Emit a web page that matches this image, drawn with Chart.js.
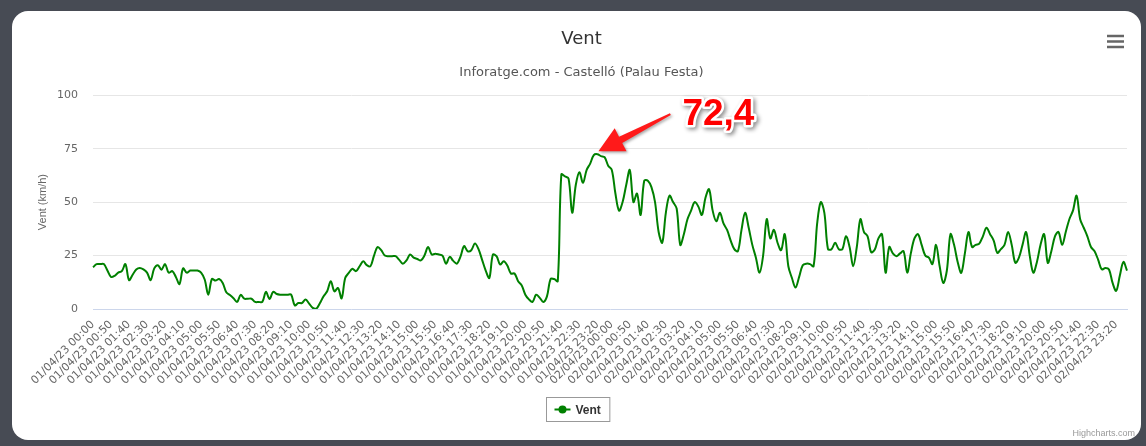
<!DOCTYPE html>
<html>
<head>
<meta charset="utf-8">
<script src="https://cdn.jsdelivr.net/npm/chart.js@4.4.0/dist/chart.umd.min.js"></script>
<style>
  html, body { margin: 0; padding: 0; }
  body { width: 1146px; height: 446px; background: #474b54; position: relative; overflow: hidden; }
  .card { position: absolute; left: 12px; top: 11px; width: 1129px; height: 429px; background: #fff; border-radius: 16px; }
  #windChart { position: absolute; left: 0; top: 0; }
</style>
</head>
<body>
<div class="card"></div>
<canvas id="windChart" width="1146" height="446"></canvas>
<script>
const chartTitle = "Vent"
const chartSubtitle = "Inforatge.com - Castelló (Palau Festa)"
const seriesName = "Vent"
const yAxisTitle = "Vent (km/h)"
const days = ["01/04/23", "02/04/23"]
const yTicks = [0, 25, 50, 75, 100]

// wind every 10 minutes
const windDay1 = [
  19.5, 21, 21, 21, 18, 15, 15.5, 17, 17.7, 21, 13.5, 16, 18.5, 19.2, 18.5, 17, 13.5, 19, 20.5, 18.4,
  21, 17, 17.7, 15, 11.7, 19, 17, 18, 18, 18, 17, 13.8, 6.7, 14, 13.3, 14, 12.2, 7.8, 6.5, 5,
  3.3, 6.6, 4.8, 4.8, 4.8, 3.3, 3.3, 3.3, 8, 4.7, 8, 7, 6.7, 6.7, 6.7, 6.7, 1.7, 2.8, 2.8, 4.4,
  2.5, 0.5, 0.2, 2.8, 6, 8.3, 13, 8.3, 9.8, 5, 14.5, 16.9, 18.8, 17.7, 20, 22.3, 20.5, 20, 25, 29,
  27.5, 25, 24.7, 24.7, 24.7, 23, 21.2, 22.7, 25.5, 24, 23.4, 22.7, 25, 29, 25.5, 25.8, 25.5, 25, 21.2, 24.4,
  22.5, 21.2, 24.5, 29.4, 27, 27.5, 30.6, 28, 23, 18, 14.5, 25.5, 24.7, 20.8, 22.3, 20.3, 16.6, 16.6, 13, 11,
  6.7, 4.5, 3.3, 6.7, 5.2, 3.3, 5.9, 14, 14, 13, 63, 62, 61, 45, 58, 64, 59, 65, 68, 72,
  72.4, 71.5, 71, 67
]
const windDay2 = [
  65, 54, 46, 50, 58, 65, 50, 54, 44, 60, 60, 57, 50, 36, 31, 45, 53, 50, 47, 30,
  35, 42, 46, 50, 48, 44, 52, 56, 46, 41, 45, 40, 37, 32, 28, 27, 37, 45, 38, 30,
  24, 17, 25, 42, 33, 37, 31, 27.5, 35, 20, 14.5, 10, 15, 20.5, 21.2, 21, 20, 40, 50, 45,
  28, 28, 31, 28, 28, 34, 29, 20, 29, 42, 36, 34, 26.5, 27.8, 33, 35, 17, 29, 26, 24.7,
  26, 27, 17, 26, 33, 35, 30, 25, 24, 21, 30, 20, 12.2, 18, 35, 30, 22, 16.9, 26, 36,
  29, 30, 30.6, 34, 38, 35, 32, 26.3, 28, 30, 36, 30, 21.6, 24, 30, 36, 25, 17, 22, 30,
  35, 21.6, 27, 34, 36, 30, 36, 42, 46, 53, 42, 38, 34, 29, 27, 23, 18.5, 19.2, 18.5, 12.2,
  8.5, 15.5, 22, 18
]

const windValues = windDay1.concat(windDay2)

// one label per 10 minutes, two days
const timeLabels = []
days.forEach(d => {
  for (let m = 0; m < 24 * 60; m += 10) {
    const hh = String(Math.floor(m / 60)).padStart(2, "0")
    const mm = String(m % 60).padStart(2, "0")
    timeLabels.push(`${d} ${hh}:${mm}`)
  }
})

function showLabel(label) {
  const t = label.split(" ")[1].split(":")
  const mins = parseInt(t[0]) * 60 + parseInt(t[1])
  return mins % 50 === 0
}

const mainFont = "'DejaVu Sans', sans-serif"
const armFont = "'Liberation Sans', Arial, sans-serif"

const extras = {
  id: "extras",
  afterDraw(chart) {
    const c = chart.ctx
    const W = chart.width
    c.save()

    // menu icon
    c.strokeStyle = "#666"
    c.lineWidth = 2.5
    ;[36, 41.5, 47].forEach(y => {
      c.beginPath()
      c.moveTo(W - 39, y)
      c.lineTo(W - 22, y)
      c.stroke()
    })

    // credits
    c.fillStyle = "#999"
    c.font = "9px " + armFont
    c.textAlign = "right"
    c.textBaseline = "alphabetic"
    c.fillText("Highcharts.com", W - 11, 436)

    // legend box
    c.font = "bold 12px " + armFont
    const tw = c.measureText(seriesName).width
    const bw = 8 + 16 + 5 + tw + 9
    const bx = Math.round(W / 2 + 5 - bw / 2) + 0.5
    const by = 397.5
    c.strokeStyle = "#999"
    c.lineWidth = 1
    c.strokeRect(bx, by, bw, 24)
    const ly = by + 12
    c.strokeStyle = "#008000"
    c.lineWidth = 2
    c.beginPath()
    c.moveTo(bx + 8, ly)
    c.lineTo(bx + 24, ly)
    c.stroke()
    c.fillStyle = "#008000"
    c.beginPath()
    c.arc(bx + 16, ly, 4, 0, Math.PI * 2)
    c.fill()
    c.fillStyle = "#333"
    c.textAlign = "left"
    c.textBaseline = "middle"
    c.fillText(seriesName, bx + 29, ly + 1)

    // peak annotation
    const maxVal = Math.max(...windValues)
    const maxIdx = windValues.indexOf(maxVal)
    const tipX = chart.scales.x.getPixelForValue(maxIdx) + 1
    const tipY = chart.scales.y.getPixelForValue(maxVal) - 3
    const tailX = tipX + 72, tailY = tipY - 37
    const len = Math.hypot(tailX - tipX, tailY - tipY)
    const ux = (tailX - tipX) / len, uy = (tailY - tipY) / len
    const nx = -uy, ny = ux
    const hb = 25, hw = 13, sw = 3.5, tw2 = 1
    const bX = tipX + ux * hb, bY = tipY + uy * hb
    c.shadowColor = "rgba(0,0,0,0.35)"
    c.shadowBlur = 3
    c.shadowOffsetX = 1.5
    c.shadowOffsetY = 1.5
    c.fillStyle = "#ff1a1a"
    c.beginPath()
    c.moveTo(tipX, tipY)
    c.lineTo(bX + nx * hw, bY + ny * hw)
    c.lineTo(bX + nx * sw, bY + ny * sw)
    c.lineTo(tailX + nx * tw2, tailY + ny * tw2)
    c.lineTo(tailX - nx * tw2, tailY - ny * tw2)
    c.lineTo(bX - nx * sw, bY - ny * sw)
    c.lineTo(bX - nx * hw, bY - ny * hw)
    c.closePath()
    c.fill()

    const txt = String(maxVal).replace(".", ",")
    c.font = "bold 37px " + armFont
    c.textAlign = "left"
    c.textBaseline = "alphabetic"
    c.lineJoin = "round"
    c.strokeStyle = "#fff"
    c.lineWidth = 5
    c.shadowColor = "rgba(0,0,0,0.45)"
    c.shadowBlur = 4
    c.shadowOffsetX = 2
    c.shadowOffsetY = 2
    c.strokeText(txt, tipX + 84, tipY - 26)
    c.shadowColor = "transparent"
    c.fillStyle = "#ff0000"
    c.fillText(txt, tipX + 84, tipY - 26)
    c.restore()
  }
}

const ctx = document.getElementById("windChart").getContext("2d")
new Chart(ctx, {
  type: "line",
  data: {
    labels: timeLabels,
    datasets: [{
      label: seriesName,
      data: windValues,
      borderColor: "#008000",
      borderWidth: 2,
      pointRadius: 0,
      tension: 0.35,
      fill: false
    }]
  },
  options: {
    responsive: false,
    animation: false,
    devicePixelRatio: 1,
    layout: { padding: { left: 36, right: 19, top: 29, bottom: 52 } },
    plugins: {
      legend: { display: false },
      tooltip: { enabled: false },
      title: {
        display: true, text: chartTitle, color: "#333",
        font: { family: mainFont, size: 18, weight: "normal" },
        padding: { top: 0, bottom: 14 }
      },
      subtitle: {
        display: true, text: chartSubtitle, color: "#555",
        font: { family: mainFont, size: 13 },
        padding: { top: 0, bottom: 15 }
      }
    },
    scales: {
      x: {
        grid: { display: false, drawTicks: false },
        border: { display: true, color: "#ccd6eb" },
        ticks: {
          autoSkip: false, minRotation: 45, maxRotation: 45, padding: 9,
          color: "#666", font: { family: mainFont, size: 11 },
          callback: function(v) {
            const lab = this.getLabelForValue(v)
            return showLabel(lab) ? lab : ""
          }
        },
        afterFit: s => { s.height = 85 }
      },
      y: {
        min: 0, max: 100,
        afterBuildTicks: s => { s.ticks = yTicks.map(v => ({ value: v })) },
        grid: { drawTicks: false, color: c => c.tick && c.tick.value === 0 ? "rgba(0,0,0,0)" : "#e6e6e6" },
        border: { display: false },
        ticks: { padding: 15, color: "#666", font: { family: mainFont, size: 11 } },
        title: { display: true, text: yAxisTitle, color: "#666", padding: 0, font: { family: armFont, size: 11 } },
        afterFit: s => { s.width = 57 }
      }
    }
  },
  plugins: [extras]
})
</script>
</body>
</html>
